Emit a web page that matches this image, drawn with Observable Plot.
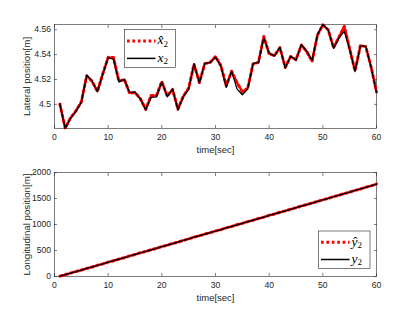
<!DOCTYPE html>
<html>
<head>
<meta charset="utf-8">
<script src="https://cdn.jsdelivr.net/npm/d3@7"></script>
<script src="https://cdn.jsdelivr.net/npm/@observablehq/plot@0.6"></script>
<style>
  html, body { margin: 0; padding: 0; background: white; }
  #wrap { position: relative; width: 415px; height: 312px; }
  #topPlot, #bottomPlot { position: absolute; left: 0; }
  #topPlot { top: 0; }
  #bottomPlot { top: 156px; }
</style>
</head>
<body>
<div id="wrap"><div id="topPlot"></div><div id="bottomPlot"></div></div>
<script>
// ---- data ----
const time = [1,2,3,4,5,6,7,8,9,10,11,12,13,14,15,16,17,18,19,20,21,22,23,24,25,26,27,28,29,30,
              31,32,33,34,35,36,37,38,39,40,41,42,43,44,45,46,47,48,49,50,51,52,53,54,55,56,57,58,59,60];
// lateral position, true x2
const x2 = [4.5003,4.4807,4.4889,4.4944,4.5016,4.5234,4.5189,4.5101,4.5242,4.5375,
            4.5362,4.5181,4.5202,4.5096,4.5101,4.5043,4.4955,4.5056,4.5061,4.5180,
            4.5061,4.5123,4.4955,4.5061,4.5123,4.5327,4.5171,4.5330,4.5335,4.5380,
            4.5308,4.5136,4.5269,4.5125,4.5077,4.5123,4.5330,4.5335,4.5534,4.5414,
            4.5388,4.5460,4.5290,4.5388,4.5354,4.5481,4.5428,4.5354,4.5561,4.5642,
            4.5601,4.5450,4.5534,4.5587,4.5442,4.5263,4.5468,4.5468,4.5295,4.5096];
// lateral position, estimate x2-hat
const x2hat = [4.5002,4.4810,4.4892,4.4948,4.5020,4.5230,4.5186,4.5104,4.5246,4.5378,
               4.5376,4.5186,4.5200,4.5090,4.5094,4.5046,4.4960,4.5072,4.5070,4.5184,
               4.5068,4.5120,4.4962,4.5066,4.5130,4.5322,4.5176,4.5326,4.5338,4.5384,
               4.5312,4.5150,4.5266,4.5175,4.5100,4.5130,4.5325,4.5338,4.5545,4.5405,
               4.5392,4.5455,4.5298,4.5384,4.5360,4.5476,4.5424,4.5346,4.5556,4.5640,
               4.5598,4.5456,4.5540,4.5627,4.5446,4.5270,4.5472,4.5464,4.5300,4.5100];
// longitudinal position, true y2
const y2 = [5,35,65,95,124,154,184,214,245,275,304,333,363,394,424,455,484,513,543,574,
            604,634,663,693,724,755,784,814,844,874,903,933,963,994,1024,1054,1084,1113,1144,1175,
            1204,1234,1264,1293,1323,1354,1384,1413,1443,1474,1504,1534,1564,1594,1624,1654,1684,1715,1745,1778];
// longitudinal position, estimate y2-hat
const y2hat = [7,33,66,97,122,156,183,216,243,277,302,335,361,396,422,457,482,515,541,576,
               602,636,661,695,722,757,782,816,842,876,901,935,961,996,1022,1056,1082,1115,1142,1177,
               1202,1236,1262,1295,1321,1356,1382,1415,1441,1476,1502,1536,1562,1596,1622,1656,1682,1717,1743,1780];

const xTicks = [0,10,20,30,40,50,60];
const yTicksTop = [4.5,4.52,4.54,4.56];
const yTicksBottom = [0,500,1000,1500,2000];
const xLabel = "time[sec]";
const yLabelTop = "Lateral position[m]";
const yLabelBottom = "Longitudinal position[m]";

const rowsTop = time.map((t, i) => ({t, x: x2[i], xh: x2hat[i]}));
const rowsBottom = time.map((t, i) => ({t, y: y2[i], yh: y2hat[i]}));

const INK = "#262626";
const FONT = "'Liberation Sans', Arial, Helvetica, sans-serif";
const RED_W = 3, RED_DASH = "2.7,2.7", BLACK_W = 1.3;

function axesMarks(yTicks, fmt) {
  return [
    Plot.frame({stroke: INK, strokeWidth: 0.6}),
    Plot.axisX(xTicks, {anchor: "bottom", tickSize: -3, tickPadding: 8, strokeWidth: 0.6, stroke: INK, fill: INK, label: null, tickFormat: d => String(d)}),
    Plot.axisX(xTicks, {anchor: "top", tickSize: -3, tickPadding: 0, strokeWidth: 0.6, stroke: INK, label: null, tickFormat: () => ""}),
    Plot.axisY(yTicks, {anchor: "left", tickSize: -3, tickPadding: 6.5, strokeWidth: 0.6, stroke: INK, fill: INK, label: null, tickFormat: fmt}),
    Plot.axisY(yTicks, {anchor: "right", tickSize: -3, tickPadding: 0, strokeWidth: 0.6, stroke: INK, label: null, tickFormat: () => ""})
  ];
}

function labelMarks(ylab) {
  return [
    Plot.text([xLabel], {frameAnchor: "bottom", text: d => d, dy: 21, lineAnchor: "middle", fill: INK, fontSize: 9.5}),
    Plot.text([ylab], {frameAnchor: "left", text: d => d, rotate: -90, dx: -27.5, lineAnchor: "middle", textAnchor: "middle", fill: INK, fontSize: 9.7})
  ];
}

const topChart = Plot.plot({
  width: 415, height: 156,
  marginLeft: 54, marginRight: 39, marginTop: 24, marginBottom: 28,
  style: {fontFamily: FONT, fontSize: "8.6px", color: INK, background: "white", overflow: "visible"},
  x: {domain: [0, 60], axis: null},
  y: {domain: [4.4806, 4.5642], axis: null},
  marks: [
    ...axesMarks(yTicksTop, d => String(d)),
    Plot.line(rowsTop, {x: "t", y: "xh", stroke: "#ff0000", strokeWidth: RED_W, strokeDasharray: RED_DASH}),
    Plot.line(rowsTop, {x: "t", y: "x", stroke: "#000", strokeWidth: BLACK_W}),
    ...labelMarks(yLabelTop)
  ]
});
document.getElementById("topPlot").appendChild(topChart);

const bottomChart = Plot.plot({
  width: 415, height: 156,
  marginLeft: 54, marginRight: 39, marginTop: 16, marginBottom: 36,
  style: {fontFamily: FONT, fontSize: "8.6px", color: INK, background: "white", overflow: "visible"},
  x: {domain: [0, 60], axis: null},
  y: {domain: [0, 2000], axis: null},
  marks: [
    ...axesMarks(yTicksBottom, d => String(d)),
    Plot.line(rowsBottom, {x: "t", y: "yh", stroke: "#ff0000", strokeWidth: RED_W, strokeDasharray: RED_DASH}),
    Plot.line(rowsBottom, {x: "t", y: "y", stroke: "#000", strokeWidth: BLACK_W}),
    ...labelMarks(yLabelBottom)
  ]
});
document.getElementById("bottomPlot").appendChild(bottomChart);

// ---- legends (drawn inside the axes) ----
function legend(svg, x0, y0, w, h, sym) {
  const g = d3.select(svg).append("g").attr("text-anchor", "start");
  g.append("rect").attr("x", x0).attr("y", y0).attr("width", w).attr("height", h)
    .attr("fill", "white").attr("stroke", INK).attr("stroke-width", 0.6);
  const rows = [
    {y: y0 + h * 0.30, stroke: "#ff0000", width: RED_W, dash: RED_DASH, hat: true},
    {y: y0 + h * 0.76, stroke: "#000", width: BLACK_W + 0.2, dash: null, hat: false}
  ];
  rows.forEach(r => {
    const ln = g.append("line").attr("x1", x0 + 2.5).attr("x2", x0 + 31).attr("y1", r.y).attr("y2", r.y)
      .attr("stroke", r.stroke).attr("stroke-width", r.width);
    if (r.dash) ln.attr("stroke-dasharray", r.dash);
    const t = g.append("text").attr("x", x0 + 33).attr("y", r.y + 3.3)
      .attr("text-anchor", "start")
      .attr("font-family", "'Liberation Serif', 'DejaVu Serif', serif").attr("font-style", "italic")
      .attr("font-size", 13.5).attr("fill", "#000");
    t.append("tspan").text(r.hat ? sym + "\u0302" : sym);
    t.append("tspan").attr("font-style", "normal").attr("font-size", 9).attr("dy", 2.5).text("2");
  });
}
legend(topChart, 124.5, 29.5, 51, 38, "x");
legend(bottomChart, 318.5, 75, 51.5, 37.5, "y");
</script>
</body>
</html>
